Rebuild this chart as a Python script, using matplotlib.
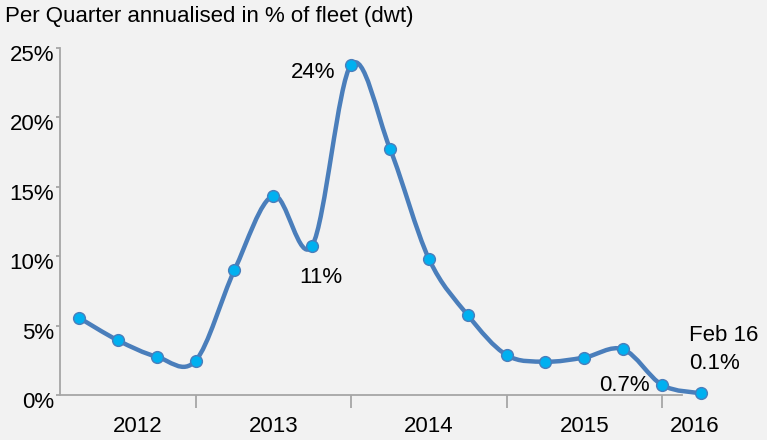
import numpy as np
import matplotlib
matplotlib.use("Agg")
import matplotlib.pyplot as plt
from matplotlib.path import Path
from matplotlib.patches import PathPatch
from matplotlib.transforms import ScaledTranslation

plt.rcParams['font.family'] = ['Liberation Sans', 'DejaVu Sans']

# quarterly values, Q1 2012 .. Q4 2015, plus Feb 2016
values = [5.57, 3.94, 2.76, 2.47, 9.0, 14.36, 10.76, 23.8, 17.75, 9.82,
          5.76, 2.88, 2.4, 2.7, 3.29, 0.72, 0.12]
years = ['2012', '2013', '2014', '2015', '2016']
year_pos = [1.5, 5.0, 9.0, 13.0, 15.85]
year_breaks = [3, 7, 11, 15]
y_ticks = [0, 5, 10, 15, 20, 25]

BG = '#F2F2F2'
LINE = '#4A7EBB'
MARK = '#00B0F0'
AXC = '#A6A6A6'
FS = 16

x = np.arange(len(values))
y = np.array(values)

fig = plt.figure(figsize=(7.67, 4.4), dpi=100, facecolor=BG)
ax = fig.add_axes([0.0776, 0.1023, 0.887, 0.7886], facecolor=BG)

# smoothed line like the spreadsheet's: catmull-rom style bezier segments
verts = [(x[0], y[0])]
codes = [Path.MOVETO]
n = len(x)
for i in range(n - 1):
    p0 = np.array([x[max(i - 1, 0)], y[max(i - 1, 0)]])
    p1 = np.array([x[i], y[i]])
    p2 = np.array([x[i + 1], y[i + 1]])
    p3 = np.array([x[min(i + 2, n - 1)], y[min(i + 2, n - 1)]])
    c1 = p1 + (p2 - p0) / 6.0
    c2 = p2 - (p3 - p1) / 6.0
    verts += [tuple(c1), tuple(c2), tuple(p2)]
    codes += [Path.CURVE4] * 3
ax.add_patch(PathPatch(Path(verts, codes), fill=False, edgecolor=LINE,
                       lw=3.2, capstyle='round', joinstyle='round',
                       clip_on=False, zorder=3))
ax.plot(x, y, ls='none', marker='o', ms=8.5, mfc=MARK, mec=LINE, mew=1.0,
        clip_on=False, zorder=4)

ax.set_xlim(-0.5, 17.0)
ax.set_ylim(0, 25)

for s in ['top', 'right']:
    ax.spines[s].set_visible(False)
ax.spines['left'].set_color(AXC)
ax.spines['bottom'].set_color(AXC)
ax.spines['left'].set_linewidth(1.3)
ax.spines['bottom'].set_linewidth(1.3)
ax.spines['bottom'].set_bounds(-0.5, 15.5)

ax.set_yticks(y_ticks)
ax.set_yticklabels([f'{t}%' for t in y_ticks])
ax.tick_params(axis='y', length=3, width=1.3, color=AXC, pad=1, labelsize=FS)
for lab in ax.get_yticklabels():
    lab.set_transform(lab.get_transform() + ScaledTranslation(0, -5 / 100, fig.dpi_scale_trans))

ax.set_xticks(year_breaks)
ax.set_xticklabels([])
ax.tick_params(axis='x', which='major', length=9, width=1.3, color=AXC)
ax.set_xticks(year_pos, minor=True)
ax.set_xticklabels(years, minor=True)
ax.tick_params(axis='x', which='minor', length=0, pad=15, labelsize=FS)

fig.text(0.007, 0.962, 'Per Quarter annualised in % of fleet (dwt)', fontsize=FS,
         va='center', ha='left')

ax.text(6.6, 23.2, '24%', fontsize=FS, ha='right', va='center')
ax.text(6.22, 8.5, '11%', fontsize=FS, ha='center', va='center')
ax.text(14.68, 0.65, '0.7%', fontsize=FS, ha='right', va='center')
ax.text(15.7, 4.3, 'Feb 16', fontsize=FS, ha='left', va='center')
ax.text(15.7, 2.3, '0.1%', fontsize=FS, ha='left', va='center')

fig.savefig('out.png', dpi=100, facecolor=BG)
